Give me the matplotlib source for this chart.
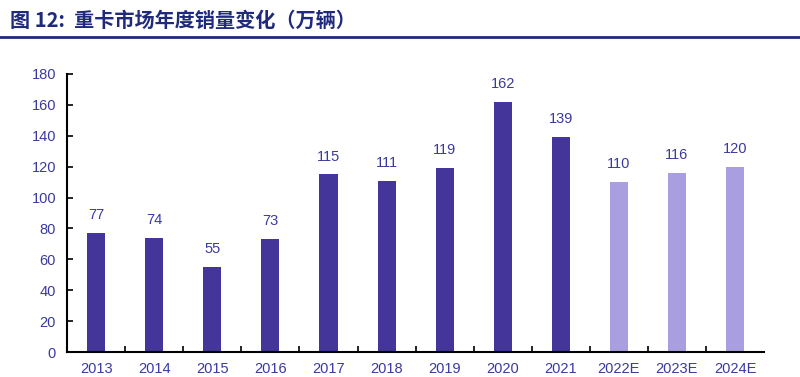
import matplotlib
matplotlib.use("Agg")
import matplotlib.pyplot as plt
from matplotlib.lines import Line2D

years = ['2013', '2014', '2015', '2016', '2017', '2018', '2019', '2020', '2021',
         '2022E', '2023E', '2024E']
sales = [77, 74, 55, 73, 115, 111, 119, 162, 139, 110, 116, 120]
is_forecast = [False] * 9 + [True] * 3

title = "图 12:  重卡市场年度销量变化（万辆）"

dark = '#43359A'
light = '#A99FE0'
text_blue = '#3A3A9E'

plt.rcParams['font.family'] = ['Liberation Sans', 'DejaVu Sans']

fig = plt.figure(figsize=(8, 3.77), dpi=100)
ax = fig.add_axes([0.084, 0.066, 0.871, 0.738])

x = list(range(len(years)))
colors = [light if f else dark for f in is_forecast]
ax.bar(x, sales, width=0.31, color=colors, zorder=2)

# 値ラベル
for xi, v in zip(x, sales):
    ax.text(xi, v + 7, str(v), ha='center', va='bottom', fontsize=10.5, color=text_blue)

ax.set_xlim(-0.5, len(years) - 0.5)
ax.set_ylim(0, 180)
ax.set_yticks(range(0, 181, 20))
ax.set_xticks(x)
ax.set_xticklabels(years)
ax.tick_params(axis='x', length=0, labelsize=10.5, labelcolor=text_blue, pad=7)
ax.tick_params(axis='y', direction='in', length=4, width=1.2, labelsize=10.5,
               labelcolor=text_blue, pad=8)
# 区切り目盛り（カテゴリ境界）
ax.set_xticks([i + 0.5 for i in range(len(years) - 1)], minor=True)
ax.tick_params(axis='x', which='minor', direction='in', length=4, width=1.2)

for side in ['top', 'right']:
    ax.spines[side].set_visible(False)
for side in ['left', 'bottom']:
    ax.spines[side].set_linewidth(1.5)
    ax.spines[side].set_color('black')

fig.text(0.012, 0.945, title, fontsize=14.5, fontweight='bold', color='#1F2A7C',
         family=['Noto Sans CJK SC', 'DejaVu Sans'], va='center', ha='left')
fig.add_artist(Line2D([0.0, 1.0], [0.903, 0.903], transform=fig.transFigure,
                      color='#1F2A7C', linewidth=2))

fig.savefig('out.png', dpi=100)
